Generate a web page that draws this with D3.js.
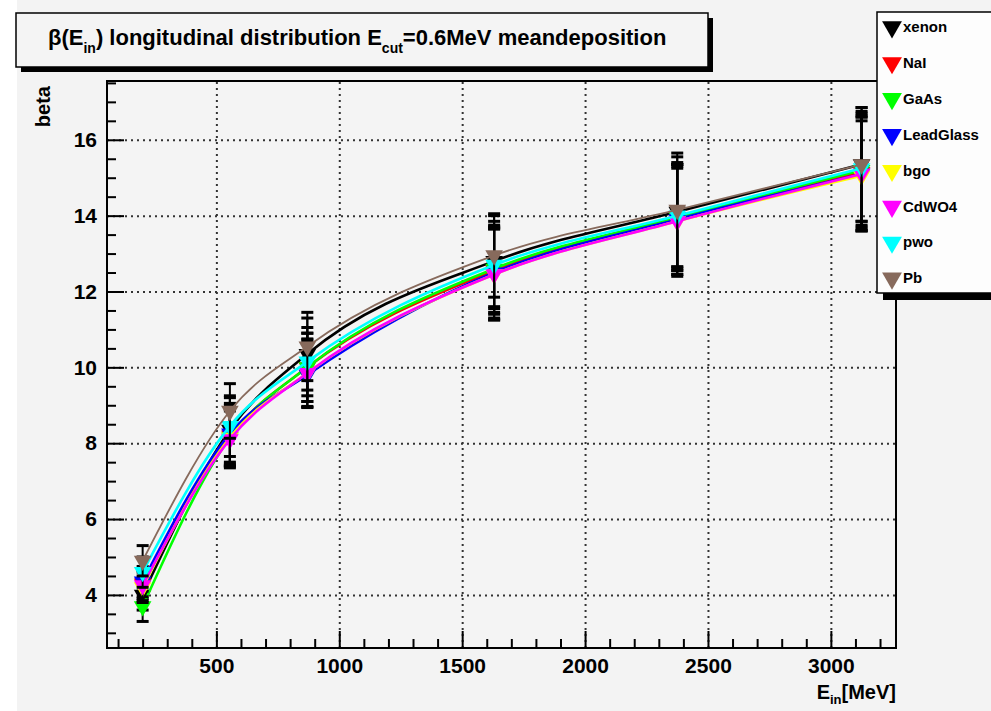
<!DOCTYPE html>
<html><head><meta charset="utf-8">
<script src="https://cdn.jsdelivr.net/npm/d3@7"></script>
<style>
body{margin:0;background:#fff;}
text{font-family:"Liberation Sans",Arial,Helvetica,sans-serif;font-weight:bold;fill:#000;}
</style>
</head><body><svg id="c" width="991" height="711"></svg>
<script>
// ---- data ----
const energies = [200, 555, 870, 1630, 2375, 3125];
const seriesNames = ["xenon", "NaI", "GaAs", "LeadGlass", "bgo", "CdWO4", "pwo", "Pb"];
const seriesColors = ["#000000", "#ff0000", "#00ff00", "#0000ff", "#ffff00", "#ff00ff", "#00ffff", "#876a5c"];
const xenon     = [4.00, 8.35, 10.35, 12.80, 14.10, 15.35];
const NaI       = [4.30, 8.20, 10.00, 12.55, 13.95, 15.15];
const GaAs      = [3.70, 8.15, 10.00, 12.60, 13.95, 15.20];
const LeadGlass = [4.35, 8.25,  9.80, 12.50, 13.90, 15.10];
const bgo       = [4.20, 8.15,  9.85, 12.45, 13.85, 15.05];
const CdWO4     = [4.25, 8.10,  9.85, 12.45, 13.85, 15.10];
const pwo       = [4.60, 8.45, 10.15, 12.70, 14.00, 15.25];
const Pb        = [4.90, 8.85, 10.55, 12.95, 14.15, 15.35];
const xenonErr     = [0.40, 0.85, 0.95, 1.20, 1.45, 1.50];
const NaIErr       = [0.40, 0.80, 0.90, 1.15, 1.40, 1.50];
const GaAsErr      = [0.40, 0.75, 0.90, 1.15, 1.40, 1.50];
const LeadGlassErr = [0.40, 0.80, 0.86, 1.20, 1.45, 1.50];
const bgoErr       = [0.40, 0.75, 0.88, 1.20, 1.40, 1.45];
const CdWO4Err     = [0.40, 0.75, 0.90, 1.20, 1.45, 1.50];
const pwoErr       = [0.40, 0.80, 0.90, 1.15, 1.40, 1.50];
const PbErr        = [0.40, 0.72, 0.90, 1.10, 1.50, 1.50];
const xTickValues = [500, 1000, 1500, 2000, 2500, 3000];
const xTickLabels = ["500", "1000", "1500", "2000", "2500", "3000"];
const yTickValues = [4, 6, 8, 10, 12, 14, 16];
const yTickLabels = ["4", "6", "8", "10", "12", "14", "16"];

const seriesValues = [xenon, NaI, GaAs, LeadGlass, bgo, CdWO4, pwo, Pb];
const seriesErrors = [xenonErr, NaIErr, GaAsErr, LeadGlassErr, bgoErr, CdWO4Err, pwoErr, PbErr];

// ---- layout ----
const svg = d3.select("#c");
const L = 107, R = 896, T = 81, B = 648;
const x = d3.scaleLinear().domain([55, 3265]).range([L, R]);
const y = d3.scaleLinear().domain([2.6, 17.55]).range([B, T]);

svg.append("rect").attr("x", 0).attr("y", 0).attr("width", 991).attr("height", 711).attr("fill", "#ffffff");
svg.append("rect").attr("x", 17).attr("y", 0).attr("width", 974).attr("height", 711).attr("fill", "#f3f3f3");
svg.append("rect").attr("x", L).attr("y", T).attr("width", R - L).attr("height", B - T).attr("fill", "#f4f4f4");

// grid
const gridX = svg.append("g").attr("transform", `translate(0,${B})`)
  .call(d3.axisBottom(x).tickValues(xTickValues).tickSize(-(B - T)).tickFormat(""));
const gridY = svg.append("g").attr("transform", `translate(${L},0)`)
  .call(d3.axisLeft(y).tickValues(yTickValues).tickSize(-(R - L)).tickFormat(""));
[gridX, gridY].forEach(g => {
  g.select(".domain").remove();
  g.selectAll("line").attr("stroke", "#333").attr("stroke-width", 2).attr("stroke-dasharray", "2,4");
});

// minor ticks
const xMinor = d3.range(100, 3265, 100).filter(v => !xTickValues.includes(v));
const yMinor = d3.range(3, 17.6, 0.5).filter(v => !yTickValues.includes(v));
const mx = svg.append("g").attr("transform", `translate(0,${B})`)
  .call(d3.axisBottom(x).tickValues(xMinor).tickSize(-9).tickFormat(""));
const my = svg.append("g").attr("transform", `translate(${L},0)`)
  .call(d3.axisLeft(y).tickValues(yMinor).tickSize(-9).tickFormat(""));
[mx, my].forEach(g => { g.select(".domain").remove(); g.selectAll("line").attr("stroke", "#000").attr("stroke-width", 2); });

// major axes
const ax = svg.append("g").attr("transform", `translate(0,${B})`)
  .call(d3.axisBottom(x).tickValues(xTickValues).tickSize(-17).tickPadding(10)
    .tickFormat((d, i) => xTickLabels[i]));
const ay = svg.append("g").attr("transform", `translate(${L},0)`)
  .call(d3.axisLeft(y).tickValues(yTickValues).tickSize(-17).tickPadding(10)
    .tickFormat((d, i) => yTickLabels[i]));
[ax, ay].forEach(g => {
  g.select(".domain").remove();
  g.selectAll("line").attr("stroke", "#000").attr("stroke-width", 2);
  g.selectAll("text").attr("font-size", 21).attr("font-family", null).attr("fill", "#000");
});

// series
const tri = d3.symbol().type(d3.symbolTriangle).size(135);
const line = d3.line().x((d, i) => x(energies[i])).y(d => y(d)).curve(d3.curveMonotoneX);
seriesValues.forEach((vals, s) => {
  const g = svg.append("g");
  g.append("path").attr("d", line(vals)).attr("fill", "none")
    .attr("stroke", seriesColors[s]).attr("stroke-width", s === 7 ? 1.8 : 2.6);
  vals.forEach((v, i) => {
    const e = seriesErrors[s][i];
    const cx = x(energies[i]);
    g.append("line").attr("x1", cx).attr("x2", cx).attr("y1", y(v + e)).attr("y2", y(v - e))
      .attr("stroke", "#000").attr("stroke-width", 2);
    [v + e, v - e].forEach(ev => {
      g.append("line").attr("x1", cx - 6).attr("x2", cx + 6).attr("y1", y(ev)).attr("y2", y(ev))
        .attr("stroke", "#000").attr("stroke-width", 3);
    });
  });
  vals.forEach((v, i) => {
    g.append("path").attr("d", tri)
      .attr("transform", `translate(${x(energies[i])},${y(v)}) rotate(180)`)
      .attr("fill", seriesColors[s]);
  });
});

// frame
svg.append("rect").attr("x", L).attr("y", T).attr("width", R - L).attr("height", B - T)
  .attr("fill", "none").attr("stroke", "#000").attr("stroke-width", 2);

// axis titles
svg.append("text").attr("transform", "translate(50,86) rotate(-90)").attr("text-anchor", "end")
  .attr("font-size", 20).text("beta");
const xt = svg.append("text").attr("x", 896).attr("y", 699).attr("text-anchor", "end").attr("font-size", 20);
xt.append("tspan").text("E");
xt.append("tspan").attr("font-size", 13).attr("dy", 5).text("in");
xt.append("tspan").attr("dy", -5).text("[MeV]");

// title box
svg.append("rect").attr("x", 21).attr("y", 18).attr("width", 692).attr("height", 54).attr("fill", "#000");
svg.append("rect").attr("x", 16).attr("y", 13).attr("width", 692).attr("height", 54)
  .attr("fill", "#f4f4f4").attr("stroke", "#000").attr("stroke-width", 1.5);
const tt = svg.append("text").attr("x", 48).attr("y", 45).attr("font-size", 22);
tt.append("tspan").text("β(E");
tt.append("tspan").attr("font-size", 14).attr("dy", 8).text("in");
tt.append("tspan").attr("dy", -8).text(") longitudinal distribution E");
tt.append("tspan").attr("font-size", 14).attr("dy", 8).text("cut");
tt.append("tspan").attr("dy", -8).text("=0.6MeV meandeposition");

// legend
const lg = svg.append("g");
lg.append("rect").attr("x", 883).attr("y", 18).attr("width", 140).attr("height", 282).attr("fill", "#000");
lg.append("rect").attr("x", 877).attr("y", 12).attr("width", 140).attr("height", 281)
  .attr("fill", "#fdfdfd").attr("stroke", "#000").attr("stroke-width", 1.5);
const legTri = d3.symbol().type(d3.symbolTriangle).size(170);
seriesNames.forEach((n, s) => {
  const ly = 27 + s * 35.9;
  lg.append("path").attr("d", legTri).attr("transform", `translate(892,${ly}) rotate(180)`)
    .attr("fill", seriesColors[s]);
  lg.append("text").attr("x", 903).attr("y", ly + 5).attr("font-size", 15).text(n);
});
</script>
</body></html>
